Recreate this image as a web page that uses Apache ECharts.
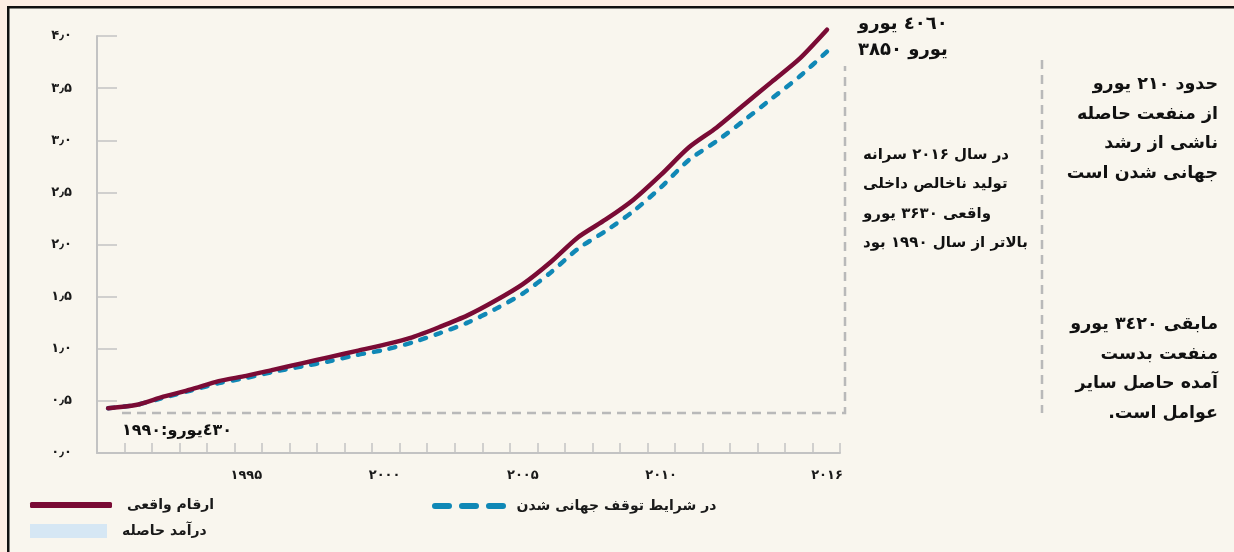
<!DOCTYPE html>
<html>
<head>
<meta charset="utf-8">
<script src="https://cdn.jsdelivr.net/npm/echarts@6/dist/echarts.min.js"></script>
<style>
html,body{margin:0;padding:0;background:#f9f6ee;}
#chart{width:1234px;height:552px;}
</style>
</head>
<body>
<div id="chart"></div>
<script>
// ---- data ----
const years = [1990,1991,1992,1993,1994,1995,1996,1997,1998,1999,2000,2001,2002,2003,2004,2005,2006,2007,2008,2009,2010,2011,2012,2013,2014,2015,2016];
const actual = [0.43,0.46,0.54,0.61,0.69,0.74,0.80,0.86,0.92,0.98,1.04,1.11,1.21,1.32,1.46,1.62,1.83,2.07,2.24,2.43,2.67,2.93,3.12,3.34,3.56,3.78,4.06];
const stagnation = [0.43,0.46,0.53,0.60,0.67,0.72,0.78,0.83,0.88,0.94,0.99,1.06,1.15,1.25,1.38,1.53,1.73,1.96,2.13,2.32,2.55,2.81,2.99,3.19,3.40,3.61,3.85];
const xLabelYears = [1995,2000,2005,2010,2016];
const seriesNames = ['ارقام واقعی','در شرایط توقف جهانی شدن','درآمد حاصله'];

const gap = stagnation.map((v,i)=>+(actual[i]-v).toFixed(3));
const faDigits = '۰۱۲۳۴۵۶۷۸۹';
function toFa(s){ return String(s).replace(/[0-9]/g,d=>faDigits[+d]).replace('.', '٫'); }

const FONT = 'DejaVu Sans';
const RED = '#7a0b35', BLUE = '#1088b6', FILL = '#d6e7f4', GREY = '#b9b9b9', AXIS = '#c3c3c3';
const dashIcon = 'path://M3,0H17A3,3 0 0 1 17,6H3A3,3 0 0 1 3,0Z M30,0H44A3,3 0 0 1 44,6H30A3,3 0 0 1 30,0Z M57,0H71A3,3 0 0 1 71,6H57A3,3 0 0 1 57,0Z';

const chart = echarts.init(document.getElementById('chart'));
const smoothV = 0.25;
const legendText = {fontFamily:FONT, fontWeight:'bold', fontSize:14, color:'#1a1a1a'};
const option = {
  backgroundColor: '#f9f6ee',
  animation: false,
  textStyle: {fontFamily: FONT},
  grid: {left: 97, top: 36, right: 394, bottom: 99, containLabel: false},
  xAxis: [
    {type:'value', min:1989.6, max:2016.47, position:'bottom',
     axisLine:{show:false, onZero:false}, axisTick:{show:false}, splitLine:{show:false},
     axisLabel:{customValues: xLabelYears, margin:16, formatter:v=>toFa(v), color:'#1a1a1a', fontWeight:'bold', fontSize:13, fontFamily:FONT}},
    {type:'value', min:0, max:27, interval:1, position:'bottom',
     axisLine:{show:true, onZero:false, lineStyle:{color:AXIS, width:2}},
     axisTick:{show:true, inside:true, length:10, lineStyle:{color:AXIS, width:1.5}},
     axisLabel:{show:false}, splitLine:{show:false}}
  ],
  yAxis: {type:'value', min:0, max:4, interval:0.5,
    axisLine:{show:true, onZero:false, lineStyle:{color:AXIS, width:2}},
    axisTick:{show:true, inside:true, length:20, lineStyle:{color:AXIS, width:1.5}},
    splitLine:{show:false},
    axisLabel:{margin:25, formatter:v=>toFa(v.toFixed(1)), color:'#1a1a1a', fontWeight:'bold', fontSize:13, fontFamily:FONT}},
  legend: [
    {data:[{name:seriesNames[0], icon:'roundRect'}], left:30, top:498, padding:0, itemWidth:82, itemHeight:6, itemGap:0,
     itemStyle:{color:RED},
     textStyle:Object.assign({padding:[0,0,0,10]}, legendText)},
    {data:[{name:seriesNames[1], icon:dashIcon}], left:432, top:499, padding:0, itemWidth:75, itemHeight:6, itemGap:0,
     itemStyle:{color:BLUE},
     textStyle:Object.assign({padding:[0,0,0,5]}, legendText)},
    {data:[{name:seriesNames[2], icon:'rect'}], left:30, top:524, padding:0, itemWidth:77, itemHeight:14, itemGap:0,
     itemStyle:{color:FILL},
     textStyle:Object.assign({padding:[0,0,0,10]}, legendText)}
  ],
  series: [
    {name:'base', type:'line', stack:'band', data: years.map((y,i)=>[y, stagnation[i]]),
     symbol:'none', smooth:smoothV, lineStyle:{opacity:0}, silent:true, clip:false, z:1},
    {name:seriesNames[2], type:'line', stack:'band', data: years.map((y,i)=>[y, gap[i]]),
     symbol:'none', smooth:smoothV, lineStyle:{opacity:0, width:0}, itemStyle:{color:FILL},
     areaStyle:{color:FILL, opacity:1}, clip:false, z:1},
    {name:seriesNames[1], type:'line', data: years.map((y,i)=>[y, stagnation[i]]),
     symbol:'none', smooth:smoothV, itemStyle:{color:BLUE},
     lineStyle:{color:BLUE, width:4.5, type:[6,10], cap:'round'}, clip:false, z:3},
    {name:seriesNames[0], type:'line', data: years.map((y,i)=>[y, actual[i]]),
     symbol:'none', smooth:smoothV, itemStyle:{color:RED},
     lineStyle:{color:RED, width:4.5, cap:'round'}, clip:false, z:4}
  ],
  graphic: [
    // frame
    {type:'rect', shape:{x:0,y:0,width:1234,height:6}, style:{fill:'#fdeee4'}, silent:true},
    {type:'rect', shape:{x:0,y:0,width:7,height:552}, style:{fill:'#fdeee4'}, silent:true},
    {type:'rect', shape:{x:7,y:6,width:1227,height:2.5}, style:{fill:'#111'}, silent:true},
    {type:'rect', shape:{x:7,y:6,width:2.5,height:546}, style:{fill:'#111'}, silent:true},
    // annotation brackets
    {type:'polyline', shape:{points:[[122,413],[845,413],[845,66]]}, style:{stroke:GREY, lineWidth:2.5, lineDash:[9,6], fill:null}, silent:true},
    {type:'line', shape:{x1:1042,y1:60,x2:1042,y2:413}, style:{stroke:GREY, lineWidth:2.5, lineDash:[9,6]}, silent:true},
    // texts
    {type:'text', x:858, y:24, style:{text:'٤٠٦٠ یورو', font:'bold 18px "DejaVu Sans"', fill:'#111', textAlign:'left', textVerticalAlign:'middle'}},
    {type:'text', x:858, y:50, style:{text:'۳۸۵۰ یورو', font:'bold 18px "DejaVu Sans"', fill:'#111', textAlign:'left', textVerticalAlign:'middle'}},
    {type:'text', x:863, y:140, style:{text:'در سال ۲۰۱۶ سرانه\nتولید ناخالص داخلی\nواقعی ۳۶۳۰ یورو\nبالاتر از سال ۱۹۹۰ بود', font:'bold 15px "DejaVu Sans"', lineHeight:29.5, fill:'#111', textAlign:'left', textVerticalAlign:'top'}},
    {type:'text', x:1218, y:70, style:{text:'حدود ۲۱۰ یورو\nاز منفعت حاصله\nناشی از رشد\nجهانی شدن است', font:'bold 17.5px "DejaVu Sans"', lineHeight:29.5, fill:'#111', textAlign:'right', textVerticalAlign:'top'}},
    {type:'text', x:1218, y:310, style:{text:'مابقی ٣٤٢٠ یورو\nمنفعت بدست\nآمده حاصل سایر\nعوامل است.\u200F', font:'bold 17.5px "DejaVu Sans"', lineHeight:29.5, fill:'#111', textAlign:'right', textVerticalAlign:'top'}},
    {type:'text', x:122, y:431, style:{text:'\u202B٤٣٠یورو:۱۹۹۰\u202C', font:'bold 16px "DejaVu Sans"', fill:'#111', textAlign:'left', textVerticalAlign:'middle'}}
  ]
};
chart.setOption(option);
</script>
</body>
</html>
